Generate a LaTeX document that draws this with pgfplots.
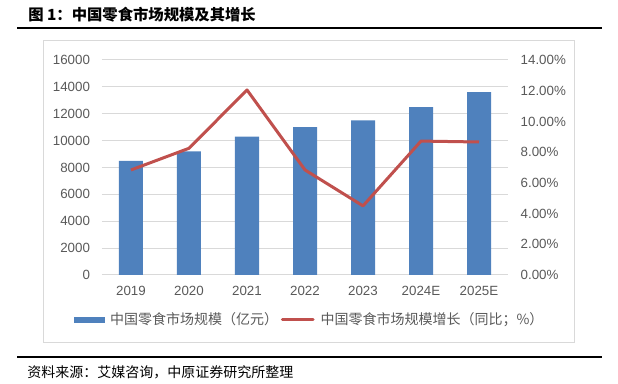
\documentclass[border=0pt]{standalone}
\usepackage{fontspec}
\usepackage{pgfplots}
\pgfplotsset{compat=1.18}
\setmainfont{Liberation Sans}
\newfontfamily\cjk{Noto Sans CJK SC}
\definecolor{barblue}{RGB}{79,129,189}
\definecolor{linered}{RGB}{192,80,77}
\definecolor{txtgray}{RGB}{89,89,89}
\definecolor{gridgray}{RGB}{217,217,217}
\begin{document}
\begin{tikzpicture}
\path (0,0) rectangle (463.5pt,288pt);
% title and rules
\node[anchor=west,inner sep=0pt] at (21pt,276.75pt) {\cjk\bfseries\fontsize{11.5}{13}\selectfont 图 1：中国零食市场规模及其增长};
\draw[line width=1.6pt] (12.75pt,267pt) -- (451.5pt,267pt);
\draw[gridgray,line width=0.75pt] (32.25pt,30.75pt) rectangle (430.5pt,257.25pt);
\draw[line width=1.6pt] (12.75pt,20.25pt) -- (451.5pt,20.25pt);
\node[anchor=west,inner sep=0pt] at (20.25pt,9pt) {\cjk\fontsize{10.5}{12}\selectfont 资料来源：艾媒咨询，中原证券研究所整理};
% bar axis
\begin{axis}[
  at={(76.5pt,81.75pt)}, anchor=south west,
  scale only axis, width=304.5pt, height=161.25pt,
  xmin=-0.5, xmax=6.5, ymin=0, ymax=16000,
  scaled y ticks=false,
  xtick={0,1,2,3,4,5,6},
  xticklabels={2019,2020,2021,2022,2023,2024E,2025E},
  ytick={0,2000,4000,6000,8000,10000,12000,14000,16000},
  yticklabels={0,2000,4000,6000,8000,10000,12000,14000,16000},
  separate axis lines,
  axis x line*=bottom, axis y line*=left,
  x axis line style={draw=gridgray,line width=0.75pt,-},
  y axis line style={draw=none},
  major tick length=0pt,
  ymajorgrids, grid style={gridgray,line width=0.75pt},
  ticklabel style={font=\fontsize{10}{12}\selectfont,text=txtgray},
  yticklabel style={xshift=-5.5pt},
  xticklabel style={yshift=-5pt},
]
\addplot[ybar, bar width=18pt, fill=barblue, draw=none] coordinates {
(0,8500) (1,9200) (2,10300) (3,11000) (4,11500) (5,12500) (6,13600)};
\end{axis}
% growth axis
\begin{axis}[
  at={(76.5pt,81.75pt)}, anchor=south west,
  scale only axis, width=304.5pt, height=161.25pt,
  xmin=-0.5, xmax=6.5, ymin=0, ymax=14,
  axis x line=none, axis y line*=right,
  y axis line style={draw=none},
  major tick length=0pt,
  ytick={0,2,4,6,8,10,12,14},
  yticklabels={0.00\%,2.00\%,4.00\%,6.00\%,8.00\%,10.00\%,12.00\%,14.00\%},
  ticklabel style={font=\fontsize{10}{12}\selectfont,text=txtgray},
  yticklabel style={xshift=6pt},
  legend columns=2,
  legend style={at={(0.512,-0.209)}, anchor=center, draw=none, fill=none,
    font=\cjk\fontsize{10.5}{12}\selectfont, text=txtgray,
    /tikz/every odd column/.append style={column sep=2.5pt},
    /tikz/every even column/.append style={column sep=0pt},
    inner sep=0pt},
]
\addlegendimage{legend image code/.code={\fill[barblue] (0pt,-1.9pt) rectangle (22.5pt,1.9pt);}}
\addlegendentry{中国零食市场规模（亿元）}
\addplot[linered, line width=2.25pt, no marks, line join=round,
  legend image code/.code={\draw[linered,line width=2.25pt,line cap=round] (0pt,0pt) -- (23pt,0pt);}]
  coordinates {(0,6.84) (1,8.25) (2,12.05) (3,6.84) (4,4.50) (5,8.72) (6,8.66)};
\addlegendentry{中国零食市场规模增长（同比；\%）}
\end{axis}
\end{tikzpicture}
\end{document}
